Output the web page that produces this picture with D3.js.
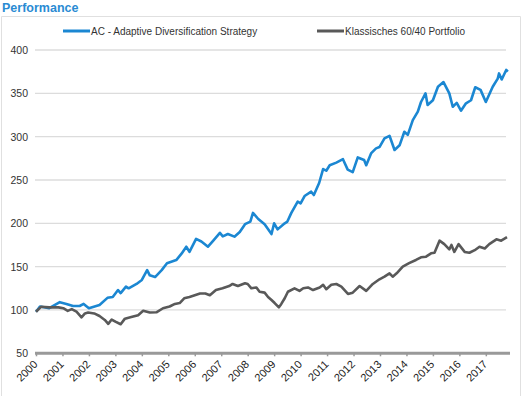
<!DOCTYPE html>
<html>
<head>
<meta charset="utf-8">
<script src="https://cdn.jsdelivr.net/npm/d3@7"></script>
<style>
  body { margin: 0; background: #fff; }
  svg { display: block; font-family: "Liberation Sans", Arial, sans-serif; }
</style>
</head>
<body>
<div class="chart"></div>
<script>
const seriesNames = ["AC - Adaptive Diversification Strategy", "Klassisches 60/40 Portfolio"];
const yearTicks = d3.range(2000, 2018);
const valueTicks = [50, 100, 150, 200, 250, 300, 350, 400];

// AC - Adaptive Diversification Strategy (decimal year, index value)
const acTimes = [2000.0, 2000.15, 2000.5, 2000.9, 2001.15, 2001.4, 2001.65, 2001.8, 2002.0, 2002.4,
  2002.7, 2002.9, 2003.1, 2003.2, 2003.4, 2003.5, 2003.8, 2004.0, 2004.2, 2004.3,
  2004.5, 2004.75, 2004.95, 2005.3, 2005.5, 2005.68, 2005.8, 2006.05, 2006.25, 2006.5,
  2006.7, 2006.95, 2007.06, 2007.25, 2007.5, 2007.7, 2007.9, 2008.1, 2008.2, 2008.4,
  2008.64, 2008.9, 2009.0, 2009.13, 2009.4, 2009.5, 2009.65, 2009.89, 2010.0, 2010.15,
  2010.4, 2010.5, 2010.7, 2010.85, 2010.97, 2011.1, 2011.35, 2011.6, 2011.78, 2011.97,
  2012.16, 2012.4, 2012.48, 2012.67, 2012.85, 2012.98, 2013.17, 2013.36, 2013.55, 2013.74,
  2013.92, 2014.05, 2014.24, 2014.43, 2014.55, 2014.72, 2014.8, 2015.0, 2015.19, 2015.4,
  2015.62, 2015.75, 2015.9, 2016.06, 2016.25, 2016.44, 2016.6, 2016.8, 2017.0, 2017.26,
  2017.45, 2017.5, 2017.6, 2017.77, 2017.83];
const acValues = [98, 104, 102, 109, 107, 104.6, 104.6, 107, 102, 105.7,
  114, 115, 123, 119.5, 127, 125, 130, 134.6, 146, 140,
  138, 146, 154, 157.6, 165, 173, 167, 182, 179, 173,
  180, 189, 185, 187.6, 184.6, 190, 199, 202, 212, 205,
  199, 187.6, 200, 193, 200, 202, 212, 225, 223, 231.5,
  236.5, 232.6, 246.5, 262.6, 260.7, 267, 270, 274, 262, 259,
  276, 273, 267, 281, 286.5, 288, 298, 301, 284.6, 290,
  305.7, 302, 319, 328.8, 340, 350, 336.5, 342, 357.6, 363,
  350, 334.5, 339, 330, 338.5, 342, 357, 354, 340, 357.6,
  367, 373, 366, 377, 375];

// Klassisches 60/40 Portfolio
const ptTimes = [2000.0, 2000.2, 2000.5, 2000.85, 2001.03, 2001.2, 2001.35, 2001.53, 2001.72, 2001.85,
  2001.97, 2002.2, 2002.4, 2002.6, 2002.73, 2002.86, 2003.0, 2003.2, 2003.36, 2003.6,
  2003.86, 2004.05, 2004.3, 2004.55, 2004.8, 2005.05, 2005.25, 2005.43, 2005.6, 2005.8,
  2006.0, 2006.2, 2006.4, 2006.57, 2006.8, 2007.05, 2007.3, 2007.43, 2007.63, 2007.9,
  2008.0, 2008.14, 2008.33, 2008.45, 2008.64, 2008.77, 2008.9, 2009.02, 2009.18, 2009.27,
  2009.4, 2009.52, 2009.77, 2009.96, 2010.1, 2010.28, 2010.47, 2010.72, 2010.85, 2010.97,
  2011.16, 2011.35, 2011.54, 2011.79, 2011.97, 2012.23, 2012.48, 2012.73, 2012.98, 2013.17,
  2013.36, 2013.48, 2013.63, 2013.86, 2014.1, 2014.36, 2014.55, 2014.74, 2014.93, 2015.06,
  2015.25, 2015.43, 2015.62, 2015.7, 2015.81, 2015.97, 2016.2, 2016.38, 2016.58, 2016.76,
  2016.96, 2017.13, 2017.4, 2017.58, 2017.8];
const ptValues = [98, 103.8, 103, 103, 102, 99, 101, 98, 91.5, 96,
  97, 96, 93, 88.5, 84, 89, 86.5, 83.5, 90, 92,
  94, 99, 97, 97.3, 102, 104, 107, 108, 113.5, 115,
  117, 119, 119, 117, 123, 125, 127.6, 130, 127.6, 130.8,
  130, 125, 126, 121, 120, 115, 111.5, 108, 103, 107,
  113.5, 121, 125, 122, 125, 126, 123, 126, 129, 124,
  129, 130, 127, 118.5, 120, 127.6, 122, 130, 135.4, 138.4,
  142.3, 138.4, 142.3, 150, 154, 157.7, 160.8, 161.5, 165.4, 166,
  180, 176, 170, 175, 167, 176, 167, 166, 169, 173,
  171, 176, 181.5, 180, 184];

const colors = ["#1b87d2", "#595959"];
const width = 527, height = 396;

const svg = d3.select(".chart").append("svg")
  .attr("width", width)
  .attr("height", height);

// title + frame
svg.append("text")
  .attr("x", 2).attr("y", 12)
  .attr("font-size", 12.5).attr("font-weight", "bold")
  .attr("fill", "#2a8bd3")
  .text("Performance");

svg.append("path")
  .attr("d", "M1.5,400V16.5H520.5V400")
  .attr("fill", "none").attr("stroke", "#e0e0e0");

const x = d3.scaleLinear().domain([2000, 2017.8]).range([36, 507]);
const y = d3.scaleLinear().domain([50, 400]).range([353.3, 50]);

// gridlines
svg.append("g")
  .selectAll("line")
  .data(valueTicks.filter((v) => v > 50))
  .join("line")
  .attr("x1", 35).attr("x2", 506)
  .attr("y1", (d) => y(d)).attr("y2", (d) => y(d))
  .attr("stroke", "#dcdcdc").attr("stroke-width", 1.3);

// y axis labels
const yAxis = svg.append("g")
  .attr("transform", "translate(30,0)")
  .call(d3.axisLeft(y).tickValues(valueTicks).tickSize(0).tickPadding(2));
yAxis.select(".domain").remove();
yAxis.selectAll("text").attr("font-size", 10.5).attr("fill", "#333").attr("font-family", null);

// x axis
const xAxis = svg.append("g")
  .attr("transform", `translate(0,${y(50)})`)
  .call(d3.axisBottom(x).tickValues(yearTicks).tickFormat(d3.format("d")).tickSize(3).tickSizeOuter(0));
xAxis.select(".domain")
  .attr("d", "M35,0H510")
  .attr("stroke", "#999").attr("stroke-width", 3);
xAxis.selectAll(".tick line").attr("stroke", "#999").attr("stroke-width", 1.5);
xAxis.selectAll(".tick text")
  .attr("font-size", 11).attr("fill", "#222").attr("font-family", null)
  .attr("text-anchor", "end")
  .attr("x", 0).attr("y", 0).attr("dy", "0.35em")
  .attr("transform", "translate(-1,9) rotate(-45)");

// lines
const line = d3.line()
  .x((d) => x(d[0]))
  .y((d) => y(d[1]));

const series = [
  d3.zip(acTimes, acValues),
  d3.zip(ptTimes, ptValues),
];

svg.append("g")
  .selectAll("path")
  .data(series)
  .join("path")
  .attr("d", line)
  .attr("fill", "none")
  .attr("stroke", (d, i) => colors[i])
  .attr("stroke-width", 2.6)
  .attr("stroke-linejoin", "round");

// legend
const legendX = [63, 317];
const legend = svg.append("g")
  .selectAll("g")
  .data(seriesNames)
  .join("g")
  .attr("transform", (d, i) => `translate(${legendX[i]},31)`);
legend.append("line")
  .attr("x1", 0).attr("x2", 27)
  .attr("stroke", (d, i) => colors[i]).attr("stroke-width", 3);
legend.append("text")
  .attr("x", 28).attr("dy", "0.35em")
  .attr("font-size", 10).attr("fill", "#333")
  .text((d) => d);
</script>
</body>
</html>
